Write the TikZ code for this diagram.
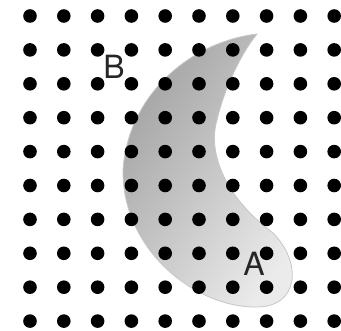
\documentclass[tikz,border=0pt]{standalone}
\usepackage{fontspec}
\setmainfont{TeX Gyre Heros}
\begin{document}
\begin{tikzpicture}[x=1pt,y=-1pt,
  dot/.style={fill=black},
  lbl/.style={inner sep=0pt, font=\fontsize{32}{38}\selectfont, text=black!85}]
\useasboundingbox (0,0) rectangle (341,331);
\fill[white] (0,0) rectangle (341,331);
% crescent
\draw[draw=black!22, line width=0.8pt, top color=black!36, bottom color=black!8, shading angle=55]
  (257,34) .. controls (190,42) and (128,95) .. (123,170)
  .. controls (122,250) and (195,307) .. (255,307)
  .. controls (300,308) and (302,262) .. (273,233)
  .. controls (222,195) and (208,150) .. (217,120)
  .. controls (224,90) and (240,55) .. (257,34) -- cycle;
% dot grid
\foreach \i in {0,...,9}{
  \foreach \j in {0,...,9}{
    \fill[dot] ({30+33.8*\i},{16+33.9*\j}) circle (6.8);
  }
}
\node[lbl] (B) at (114,67) {B};
\node[lbl] (A) at (254,264) {A};
\end{tikzpicture}
\end{document}
